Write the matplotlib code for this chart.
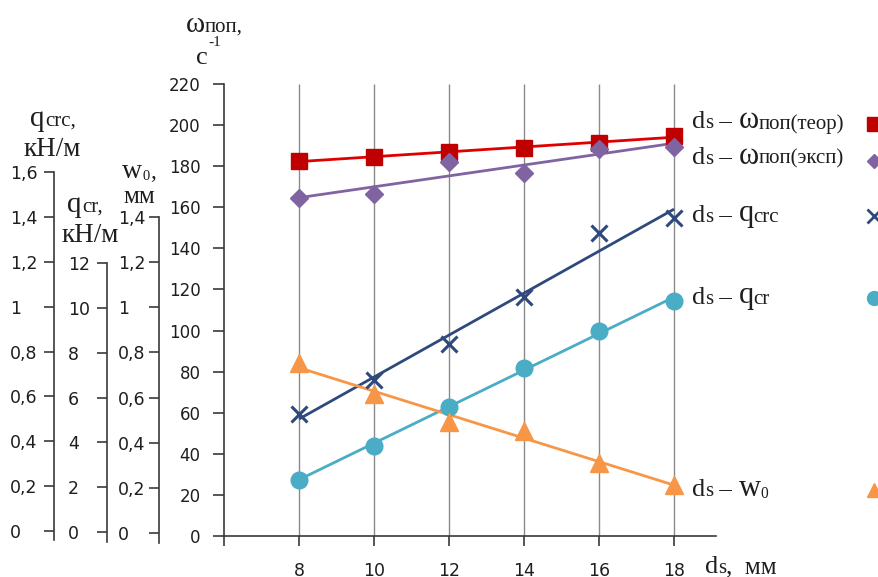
import matplotlib
matplotlib.use("Agg")
import matplotlib.pyplot as plt
import numpy as np
from matplotlib import transforms
from matplotlib.lines import Line2D
from matplotlib.offsetbox import TextArea, HPacker, AnnotationBbox

# values as they sit on the omega scale of the chart
ds = [8, 10, 12, 14, 16, 18]
omega_teor = [182.5, 184.5, 187, 189, 191.5, 194.5]
omega_eksp = [164.5, 166.5, 182, 176.5, 188.5, 189.5]
q_crc = [59.5, 76, 93.5, 116.5, 147.5, 155]
q_cr = [27.5, 44, 63, 82, 100, 114.5]
w0 = [84, 69, 55.5, 51, 35.5, 25]

omega_ticks = list(range(0, 221, 20))
qcrc_ticks = [0, 0.2, 0.4, 0.6, 0.8, 1, 1.2, 1.4, 1.6]
qcr_ticks = [0, 2, 4, 6, 8, 10, 12]
w0_ticks = [0, 0.2, 0.4, 0.6, 0.8, 1, 1.2, 1.4]
x_ticks = [6, 8, 10, 12, 14, 16, 18]

W, H = 879, 577
SERIF = "Liberation Serif"
SANS = "DejaVu Sans"
TXT = "#1e1e1e"
AXC = "#3a3a3a"

plt.rcParams["mathtext.fontset"] = "custom"
plt.rcParams["mathtext.rm"] = SERIF
plt.rcParams["mathtext.it"] = SERIF + ":italic"

fig = plt.figure(figsize=(W / 100, H / 100), dpi=100)


def px_axes(left, top, right, bottom):
    return fig.add_axes([left / W, 1 - bottom / H, (right - left) / W, (bottom - top) / H])


def comma(v):
    if float(v).is_integer():
        return str(int(v))
    return ("%.1f" % v).replace(".", ",")


def rich(x, y, parts, align=(0.0, 0.5)):
    boxes = [TextArea(s, textprops=dict(fontsize=fs, family=SERIF, color=TXT)) for s, fs in parts]
    pack = HPacker(children=boxes, align="baseline", pad=0, sep=0)
    ab = AnnotationBbox(pack, (x, H - y), xycoords="figure pixels",
                        box_alignment=align, frameon=False, pad=0)
    fig.add_artist(ab)


# main axis
ax = px_axes(224, 84, 716, 536)
ax.set_xlim(6, 19.12)
ax.set_ylim(0, 220)
for s in ["top", "right"]:
    ax.spines[s].set_visible(False)
for s in ["left", "bottom"]:
    ax.spines[s].set_color(AXC)
    ax.spines[s].set_linewidth(1.2)
ax.set_xticks(x_ticks)
ax.set_xticklabels([""] + [str(v) for v in x_ticks[1:]])
ax.set_yticks(omega_ticks)
ax.set_yticklabels([str(v) for v in omega_ticks])
ax.tick_params(axis="x", direction="out", length=7, width=1.2, color=AXC, pad=12,
               labelsize=12.5, labelcolor=TXT)
ax.tick_params(axis="y", direction="out", length=8, width=1.2, color=AXC, pad=9,
               labelsize=12, labelcolor=TXT)
for lab in ax.get_xticklabels() + ax.get_yticklabels():
    lab.set_family(SANS)
ax.vlines(ds, 0, 220, color="#8a8a8a", lw=1, zorder=0)

series = [
    (omega_teor, "#C00000", "#E00000", "s", 11, 1),
    (omega_eksp, "#8064A2", "#8064A2", "D", 9, 1),
    (q_crc, "#2E4A7D", "#2E4A7D", "x", 11, 2.2),
    (q_cr, "#4BACC6", "#4BACC6", "o", 12, 1),
    (w0, "#F79646", "#F79646", "^", 12.5, 1),
]
xs = np.array(ds, dtype=float)
for vals, mc, lc, mk, ms, mew in series:
    k, b = np.polyfit(xs, vals, 1)
    ax.plot([xs[0], xs[-1]], [k * xs[0] + b, k * xs[-1] + b], color=lc, lw=2, zorder=2,
            solid_capstyle="butt")
    ax.plot(ds, vals, ls="none", marker=mk, ms=ms, color=mc, mec=mc, mew=mew, zorder=3,
            clip_on=False)

# extra left axes (q_crc, q_cr, w0)
side = [
    (54, 172, 540, (-0.04, 1.6), qcrc_ticks, 10),
    (107, 263, 542, (-0.446, 12), qcr_ticks, 68),
    (159, 217, 543, (-0.044, 1.4), w0_ticks, 118),
]
for xl, top, bot, lim, ticks, lx in side:
    sa = px_axes(xl, top, xl + 1, bot)
    sa.patch.set_visible(False)
    for s in ["top", "right", "bottom"]:
        sa.spines[s].set_visible(False)
    sa.spines["left"].set_color(AXC)
    sa.spines["left"].set_linewidth(1.2)
    sa.set_xticks([])
    sa.set_ylim(*lim)
    sa.set_yticks(ticks)
    sa.set_yticklabels([])
    sa.tick_params(axis="y", direction="out", length=7, width=1.2, color=AXC)
    tr = transforms.blended_transform_factory(fig.transFigure, sa.transData)
    off = transforms.offset_copy(tr, fig=fig, y=-2, units="dots")
    for t in ticks:
        sa.text(lx / W, t, comma(t), transform=off, ha="left", va="center",
                fontsize=12.5, family=SANS, color=TXT)

# axis titles
rich(214, 25, [("ω", 21), ("поп,", 15)], align=(0.5, 0.5))
fig.text(202 / W, 1 - 58 / H, "c", fontsize=19, family=SERIF, color=TXT, ha="center", va="center")
fig.text(215 / W, 1 - 43 / H, "-1", fontsize=11, family=SERIF, color=TXT, ha="center", va="center")
rich(53, 119, [("q", 21), ("crc,", 15)], align=(0.5, 0.5))
fig.text(52 / W, 1 - 150 / H, "кН/м", fontsize=19.5, family=SERIF, color=TXT, ha="center", va="center")
rich(85, 205, [("q", 21), ("cr,", 15)], align=(0.5, 0.5))
fig.text(90 / W, 1 - 235 / H, "кН/м", fontsize=19.5, family=SERIF, color=TXT, ha="center", va="center")
rich(139, 171, [("w", 20), ("$_{0}$", 15), (",", 17)], align=(0.5, 0.5))
fig.text(139 / W, 1 - 197 / H, "мм", fontsize=18, family=SERIF, color=TXT, ha="center", va="center")
rich(705, 567, [("d", 19), ("s", 15), (",  мм", 18)])

# legend
legend_rows = [
    (121, [("d", 19), ("s", 15), (" – ", 18), ("ω", 22), ("поп(теор)", 15)], "s", "#C00000", 124, 10),
    (156, [("d", 19), ("s", 15), (" – ", 18), ("ω", 22), ("поп(эксп)", 15)], "D", "#8064A2", 161, 7),
    (214, [("d", 19), ("s", 15), (" – ", 18), ("q", 22), ("crc", 15)], "x", "#2E4A7D", 216, 10),
    (296, [("d", 19), ("s", 15), (" – ", 18), ("q", 22), ("cr", 15)], "o", "#4BACC6", 298, 10),
    (488, [("d", 19), ("s", 15), (" – ", 18), ("w", 22), ("$_{0}$", 16)], "^", "#F79646", 490, 10),
]
for ty, parts, mk, col, my, ms in legend_rows:
    rich(692, ty, parts)
    fig.add_artist(Line2D([874 / W], [1 - my / H], transform=fig.transFigure, marker=mk,
                          ms=ms, color=col, mec=col, mew=2 if mk == "x" else 1, ls="none"))

fig.savefig("out.png", dpi=100)
